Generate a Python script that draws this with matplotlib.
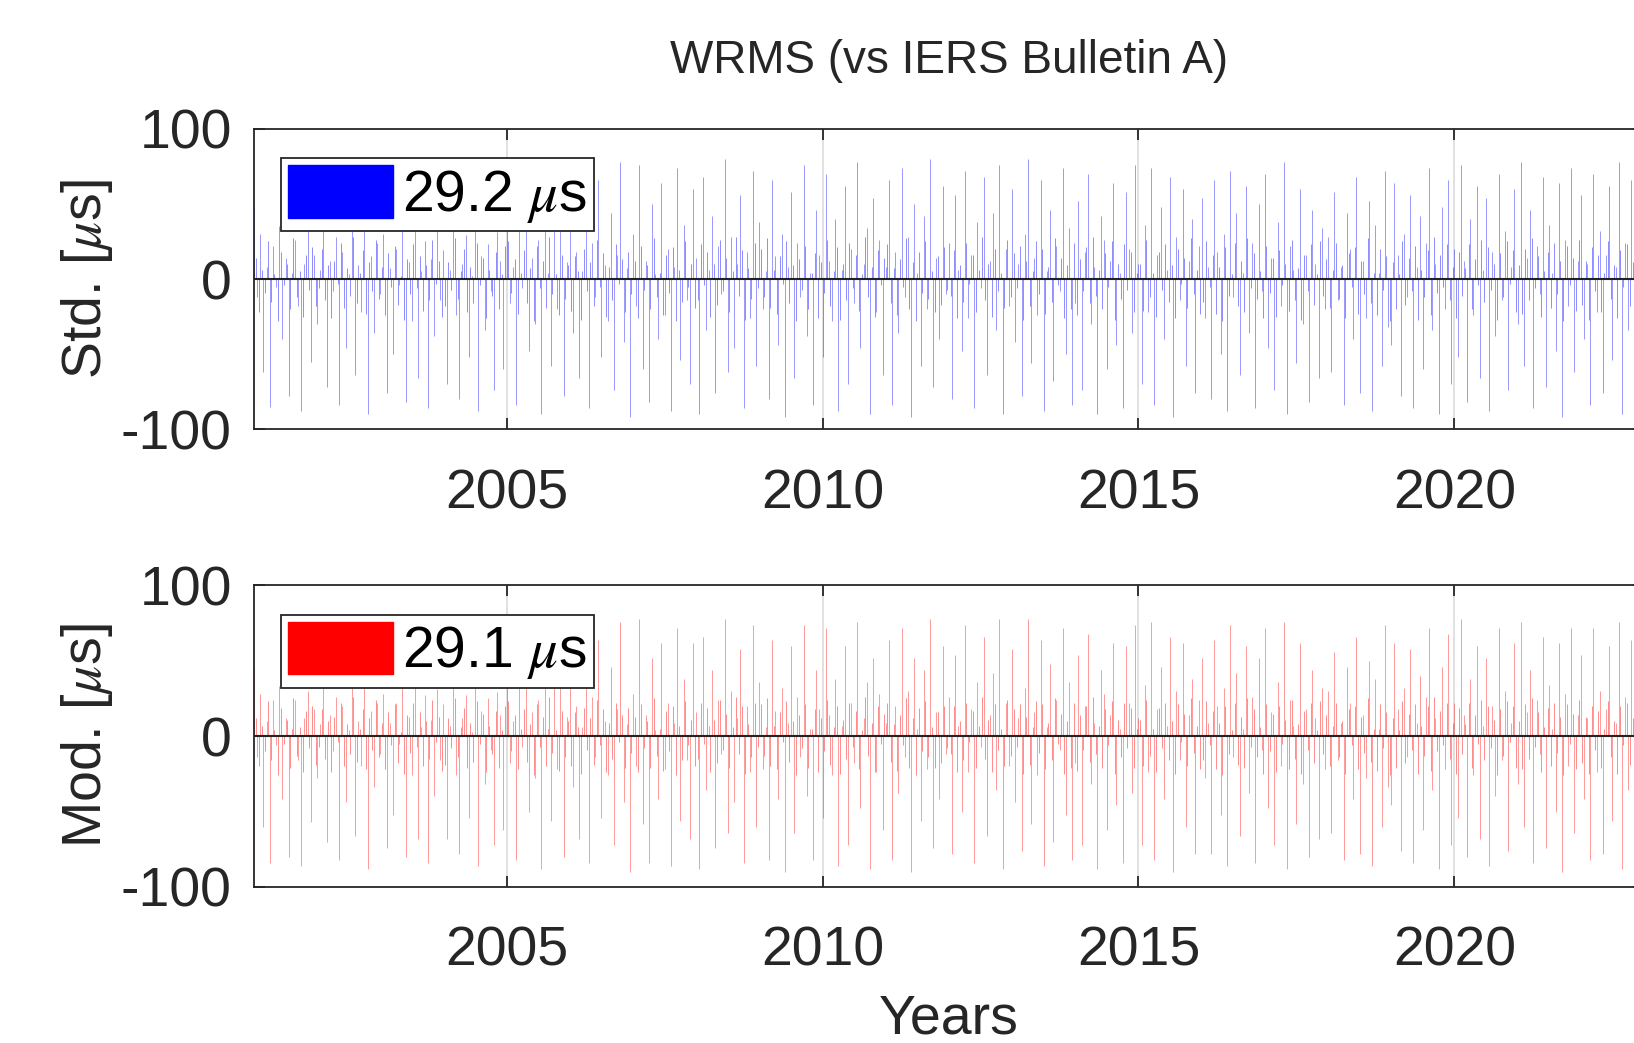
import numpy as np
import matplotlib
matplotlib.use("Agg")
import matplotlib.pyplot as plt
from matplotlib.patches import Patch

plt.rcParams['font.family'] = ['Liberation Sans', 'DejaVu Sans']
plt.rcParams['mathtext.fontset'] = 'stix'
plt.rcParams['axes.unicode_minus'] = False

# residuals, 20 samples per year starting 2001.0 (larger spikes)
std_vals = [
    48, -12, 30, -62, 8, -85, 22, -5, 35, -40, 14, -78, 4, 26, -18, -88, 10, 32, -55, 16,  # 2001
    -30, 6, 38, -72, 12, -8, 28, -84, 18, -46, 3, 34, -64, 9, -22, 40, -90, 15, -36, 24,  # 2002
    -10, 30, -76, 7, -50, 20, -4, 36, -82, 11, -28, 42, -66, 5, 25, -86, 13, -38, 33, -14,  # 2003
    19, -70, 6, 37, -24, -80, 10, 29, -52, 2, 44, -88, 15, -34, 23, -8, -74, 31, 12, -60,  # 2004
    55, -16, 8, -84, 40, -6, 62, -48, 14, -30, 26, -90, 70, 4, -58, 34, -20, 48, -78, 11,  # 2005
    72, -36, 18, -66, 5, 58, -86, 24, -12, 66, -52, 9, -28, 44, -74, 16, 78, -42, 7, -92,  # 2006
    30, -18, 76, -60, 12, -82, 50, 3, -40, 64, -24, 20, -88, 8, 74, -54, 36, -14, -70, 60,  # 2007
    14, -90, 68, -34, 6, 42, -76, 22, -10, 80, -62, 28, -46, 10, 56, -86, 18, -26, 72, -58,  # 2008
    38, -20, 5, -80, 66, 15, -44, 30, -92, 8, 58, -66, 24, -12, 76, -38, 4, -84, 46, 16,  # 2009
    -52, 70, 12, -28, 40, -88, 6, 62, -70, 20, -16, 78, -46, 10, 34, -90, 54, -22, 26, -64,  # 2010
    8, 66, -84, 18, -36, 74, -12, 28, -92, 50, 4, -58, 42, -20, 80, -72, 14, -40, 62, -10,  # 2011
    24, -80, 56, 6, -48, 72, -26, 16, -86, 38, -6, 68, -64, 12, 44, -34, 76, -90, 20, -18,  # 2012
    60, -42, 10, -78, 30, 80, -56, 14, -24, 66, -88, 5, 46, -68, 22, -8, 74, -50, 34, -84,  # 2013
    -16, 52, -74, 18, 70, -30, 8, -90, 42, 26, -60, 12, 64, -44, 4, -86, 58, 20, -36, 76,  # 2014
    10, -70, 36, -22, 74, -84, 16, 48, -40, 6, 68, -92, 28, -14, 60, -58, 12, 40, -76, 22,  # 2015
    54, -26, 8, -80, 66, 18, -50, 30, -88, 72, -12, 44, -64, 4, 62, -36, 24, -86, 50, -8,  # 2016
    70, -46, 14, -74, 38, -18, 78, -90, 22, 6, -56, 60, -30, 16, -82, 46, 10, -66, 34, -20,  # 2017
    28, -62, 58, -14, 8, -84, 44, 20, -40, 68, -76, 12, -26, 52, -88, 36, 4, -58, 72, -32,  # 2018
    -44, 64, 16, -78, 30, -12, 56, -86, 8, 42, -60, 24, 74, -34, 10, -90, 48, -20, 66, -70,  # 2019
    20, -52, 76, 12, -82, 40, -24, 62, -66, 6, 54, -88, 18, -38, 70, -14, 32, -74, 8, 60,  # 2020
    -30, 78, -58, 14, 46, -86, 22, -10, 68, -72, 36, 4, -48, 64, -92, 26, -18, 74, -62, 12,  # 2021
    56, -40, 10, -84, 70, -22, 32, -76, 16, 62, -54, 8, 78, -90, 24, -34, 66, -68, 44, -16,  # 2022
]
mod_vals = [
    46, -14, 28, -60, 10, -84, 24, -6, 33, -42, 12, -80, 5, 24, -16, -86, 12, 30, -57, 18,
    -28, 8, 36, -70, 14, -10, 26, -82, 20, -44, 4, 32, -66, 10, -20, 38, -88, 17, -34, 22,
    -12, 28, -74, 9, -52, 22, -5, 34, -80, 13, -26, 40, -68, 6, 27, -84, 11, -40, 31, -16,
    21, -68, 7, 35, -26, -78, 12, 27, -54, 3, 42, -86, 17, -32, 25, -9, -72, 29, 14, -62,
    53, -18, 10, -82, 42, -7, 60, -50, 16, -28, 24, -88, 72, 5, -56, 32, -22, 46, -80, 13,
    74, -34, 20, -68, 6, 56, -84, 26, -14, 64, -54, 10, -26, 46, -72, 18, 76, -44, 8, -90,
    28, -20, 78, -58, 14, -84, 52, 4, -42, 62, -22, 22, -86, 9, 72, -56, 38, -16, -68, 62,
    16, -88, 66, -36, 7, 44, -74, 24, -12, 78, -64, 30, -44, 12, 58, -84, 20, -24, 74, -60,
    36, -22, 6, -82, 64, 17, -42, 32, -90, 9, 60, -64, 26, -14, 74, -40, 5, -82, 44, 18,
    -54, 72, 14, -26, 38, -86, 7, 60, -72, 22, -18, 76, -48, 12, 36, -88, 52, -24, 28, -62,
    9, 64, -82, 20, -38, 72, -14, 30, -90, 52, 5, -56, 44, -22, 78, -74, 16, -42, 60, -12,
    26, -78, 54, 7, -50, 74, -24, 18, -84, 36, -7, 66, -66, 14, 42, -36, 78, -88, 22, -20,
    58, -44, 12, -76, 32, 78, -58, 16, -26, 64, -86, 6, 48, -70, 24, -9, 72, -52, 36, -82,
    -18, 54, -72, 20, 68, -32, 9, -88, 44, 28, -62, 14, 62, -46, 5, -84, 60, 22, -38, 74,
    12, -72, 34, -24, 76, -82, 18, 46, -42, 7, 66, -90, 30, -16, 62, -60, 14, 38, -78, 24,
    52, -28, 9, -78, 64, 20, -52, 32, -86, 74, -14, 42, -66, 5, 60, -38, 26, -84, 52, -9,
    72, -48, 16, -72, 36, -20, 76, -88, 24, 7, -58, 62, -32, 18, -80, 44, 12, -68, 32, -22,
    30, -64, 56, -16, 9, -82, 46, 22, -42, 66, -78, 14, -28, 50, -86, 38, 5, -60, 74, -34,
    -46, 62, 18, -76, 32, -14, 58, -84, 9, 40, -62, 26, 72, -36, 12, -88, 46, -22, 68, -72,
    22, -54, 78, 14, -80, 38, -26, 60, -68, 7, 52, -86, 20, -40, 72, -16, 30, -76, 9, 62,
    -32, 76, -60, 16, 44, -84, 24, -12, 66, -74, 34, 5, -50, 62, -90, 28, -20, 72, -64, 14,
    54, -42, 12, -82, 72, -24, 30, -78, 18, 60, -56, 9, 76, -88, 26, -36, 64, -70, 46, -18,
]
# the dense small residuals in between (offset by half a step)
std_core = [
    14, -22, 6, -9, 25, -15, 3, -28, 18, -4, 10, -20, 27, -12, 5, -25, 16, -7, 21, -18,
    -6, 20, -14, 9, -26, 12, -3, 24, -19, 7, -11, 28, -16, 4, 19, -23, 11, -8, 26, -13,
    8, -24, 17, -5, 22, -17, 2, -27, 13, -10, 23, -6, 15, -21, 9, -14, 26, -3, 12, -25,
    -18, 11, -7, 27, -13, 5, 20, -22, 8, -16, 24, -4, 14, -26, 6, -11, 18, -20, 3, 22,
    25, -9, 13, -23, 4, 19, -16, 7, -28, 22, -6, 12, -19, 28, -10, 3, -24, 16, -13, 9,
    -21, 15, 5, -27, 20, -8, 11, -18, 26, -5, 17, -25, 8, -14, 23, -3, 13, -22, 18, -10,
    12, -26, 22, -7, 9, -20, 27, -12, 4, -24, 16, -9, 21, -28, 6, -15, 25, -5, 10, -19,
    -14, 23, -4, 18, -25, 10, -17, 26, -8, 14, -22, 5, 28, -11, 19, -27, 7, -13, 24, -6,
    20, -12, 27, -19, 6, -23, 15, -3, 25, -16, 9, -28, 13, -7, 22, -20, 4, 17, -26, 11,
    -9, 26, -18, 5, 21, -27, 10, -14, 24, -6, 16, -21, 3, 28, -12, 8, -25, 19, -4, 14,
    23, -16, 7, -24, 13, -5, 27, -20, 11, -28, 18, -9, 25, -13, 5, -22, 15, -17, 21, -7,
    -11, 19, -26, 9, -15, 24, -3, 16, -22, 6, 28, -14, 10, -25, 20, -8, 4, -19, 26, -12,
    17, -6, 22, -27, 12, -18, 5, 25, -10, 20, -23, 8, -15, 27, -4, 14, -26, 9, -20, 24,
    -24, 13, -8, 21, -16, 28, -11, 6, -20, 17, -5, 25, -27, 10, -13, 23, -7, 18, -22, 4,
    10, -21, 26, -12, 4, -25, 18, -7, 23, -15, 9, -26, 20, -3, 14, -19, 27, -10, 6, -23,
    -15, 25, -5, 16, -23, 8, -28, 21, -11, 3, 24, -18, 12, -22, 27, -6, 17, -13, 5, -26,
    22, -9, 14, -25, 19, -4, 10, -21, 26, -14, 7, -27, 16, -8, 23, -17, 3, 25, -11, 13,
    -19, 6, 24, -13, 9, -26, 17, -5, 21, -23, 12, -10, 27, -16, 4, -24, 20, -7, 15, -28,
    11, -20, 3, 25, -17, 14, -8, 22, -27, 6, -12, 19, -24, 28, -9, 16, -5, 23, -14, 8,
    -26, 18, -11, 7, 23, -20, 13, -4, 26, -15, 21, -7, 10, -27, 17, -12, 25, -3, 19, -22,
    9, -23, 20, -14, 27, -6, 15, -25, 5, 18, -19, 24, -10, 12, -28, 22, -4, 14, -21, 26,
    -17, 12, -27, 21, -8, 16, -22, 4, 25, -13, 9, -26, 19, -5, 23, -18, 11, -24, 7, 20,
]
mod_core = [
    12, -20, 7, -10, 23, -16, 4, -26, 19, -5, 11, -21, 25, -13, 6, -24, 17, -8, 20, -19,
    -7, 18, -15, 10, -24, 13, -4, 22, -20, 8, -12, 26, -17, 5, 18, -22, 12, -9, 24, -14,
    9, -22, 16, -6, 21, -18, 3, -25, 14, -11, 22, -7, 16, -20, 10, -15, 24, -4, 13, -23,
    -19, 12, -8, 25, -14, 6, 19, -21, 9, -17, 23, -5, 15, -24, 7, -12, 17, -21, 4, 20,
    23, -10, 14, -22, 5, 18, -17, 8, -26, 21, -7, 13, -20, 26, -11, 4, -23, 17, -14, 10,
    -20, 16, 6, -25, 19, -9, 12, -19, 24, -6, 18, -24, 9, -15, 22, -4, 14, -21, 19, -11,
    13, -24, 21, -8, 10, -21, 25, -13, 5, -23, 17, -10, 20, -26, 7, -16, 23, -6, 11, -20,
    -15, 22, -5, 19, -24, 11, -18, 24, -9, 15, -21, 6, 26, -12, 20, -25, 8, -14, 22, -7,
    21, -13, 25, -20, 7, -22, 16, -4, 23, -17, 10, -26, 14, -8, 21, -21, 5, 18, -24, 12,
    -10, 24, -19, 6, 20, -25, 11, -15, 22, -7, 17, -22, 4, 26, -13, 9, -24, 20, -5, 15,
    22, -17, 8, -23, 14, -6, 25, -21, 12, -26, 19, -10, 23, -14, 6, -21, 16, -18, 20, -8,
    -12, 20, -24, 10, -16, 22, -4, 17, -21, 7, 26, -15, 11, -24, 21, -9, 5, -20, 24, -13,
    18, -7, 21, -25, 13, -19, 6, 23, -11, 21, -22, 9, -16, 25, -5, 15, -25, 10, -21, 22,
    -23, 14, -9, 20, -17, 26, -12, 7, -21, 18, -6, 23, -25, 11, -14, 22, -8, 19, -21, 5,
    11, -20, 24, -13, 5, -24, 19, -8, 22, -16, 10, -25, 21, -4, 15, -20, 25, -11, 7, -22,
    -16, 23, -6, 17, -22, 9, -26, 20, -12, 4, 22, -19, 13, -21, 25, -7, 18, -14, 6, -25,
    21, -10, 15, -24, 20, -5, 11, -22, 24, -15, 8, -25, 17, -9, 22, -18, 4, 23, -12, 14,
    -20, 7, 22, -14, 10, -25, 18, -6, 20, -22, 13, -11, 25, -17, 5, -23, 21, -8, 16, -26,
    12, -21, 4, 23, -18, 15, -9, 21, -25, 7, -13, 20, -23, 26, -10, 17, -6, 22, -15, 9,
    -25, 19, -12, 8, 22, -21, 14, -5, 24, -16, 20, -8, 11, -26, 18, -13, 23, -4, 20, -21,
    10, -22, 21, -15, 25, -7, 16, -24, 6, 19, -20, 22, -11, 13, -26, 21, -5, 15, -22, 24,
    -18, 13, -25, 20, -9, 17, -21, 5, 23, -14, 10, -25, 20, -6, 22, -19, 12, -23, 8, 19,
]
epochs = 2001 + np.arange(len(std_vals)) / 20.0
epochs_core = epochs + 0.025

wrms = [29.2, 29.1]
ylabels = ['Std. [$\\mu$s]', 'Mod. [$\\mu$s]']
colors = ['blue', 'red']
xticks = [2005, 2010, 2015, 2020]
tcol = '#262626'

fig = plt.figure(figsize=(16.34, 10.43), dpi=100)
ax1 = fig.add_axes([0.1554, 0.5885, 0.8507, 0.2880])
ax2 = fig.add_axes([0.1554, 0.1497, 0.8507, 0.2890])

series = [(std_vals, std_core), (mod_vals, mod_core)]
for ax, (vals, core), c, lab, w in zip([ax1, ax2], series, colors, ylabels, wrms):
    ax.vlines(epochs, 0, vals, colors=c, linewidth=0.7, alpha=0.4, zorder=2)
    ax.vlines(epochs_core, 0, core, colors=c, linewidth=0.7, alpha=0.45, zorder=2)
    ax.axhline(0, color='#222222', linewidth=1.5, zorder=3)
    ax.set_xlim(2001, 2023)
    ax.set_ylim(-100, 100)
    ax.set_xticks(xticks)
    ax.set_yticks([-100, 0, 100])
    ax.grid(axis='x', color='#dcdcdc', linewidth=1.2, zorder=0)
    ax.tick_params(direction='in', top=True, right=True, length=8, width=1.3,
                   labelsize=40, colors=tcol, labelcolor=tcol)
    ax.tick_params(axis='x', pad=28)
    ax.tick_params(axis='y', pad=16)
    for s in ax.spines.values():
        s.set_color(tcol)
        s.set_linewidth(1.3)
    ax.set_ylabel(lab, fontsize=40, color=tcol)
    ax.yaxis.set_label_coords(-0.1, 0.5)
    h = Patch(facecolor=c, edgecolor=c)
    leg = ax.legend([h], ['%.1f $\\mu$s' % w], loc='upper left', fontsize=41,
                    bbox_to_anchor=(0.0195, 0.903), borderaxespad=0,
                    handlelength=1.85, handleheight=1.05, handletextpad=0.15,
                    borderpad=0.12, fancybox=False, framealpha=1)
    leg.get_frame().set_edgecolor(tcol)
    leg.get_frame().set_linewidth(1.3)
    leg.set_zorder(5)

ax1.set_title('WRMS (vs IERS Bulletin A)', fontsize=33, color=tcol, pad=40)
ax2.set_xlabel('Years', fontsize=40, color=tcol)
ax2.xaxis.set_label_coords(0.5, -0.355)

fig.savefig('out.png', dpi=100)
